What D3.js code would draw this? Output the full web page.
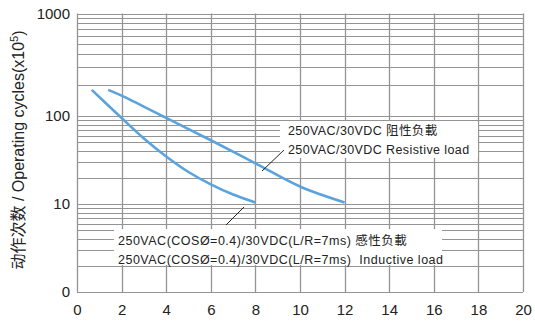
<!DOCTYPE html>
<html><head><meta charset="utf-8">
<script src="https://cdn.jsdelivr.net/npm/d3@7"></script>
<style>
body{margin:0;background:#fff;}
text{font-family:"Liberation Sans",Arial,"Noto Sans CJK SC",sans-serif;}
</style></head><body>
<svg id="c" width="535" height="323"></svg>
<script>
// data
const xTicks = [0,2,4,6,8,10,12,14,16,18,20];
const yTicks = [1,10,100,1000];
const yTickLabels = ["0","10","100","1000"];
const resistiveX = [1.4, 2, 4, 6, 8, 10, 12];
const resistiveY = [180, 158, 95, 53, 29, 15.8, 10.4];
const inductiveX = [0.66, 2, 3, 4, 5, 6, 7, 8];
const inductiveY = [180, 95, 55.5, 34.7, 23.1, 16.7, 12.8, 10.4];
const resistiveLabels = ["250VAC/30VDC 阻性负載", "250VAC/30VDC Resistive load"];
const inductiveLabels = ["250VAC(COSØ=0.4)/30VDC(L/R=7ms) 感性负載", "250VAC(COSØ=0.4)/30VDC(L/R=7ms)  Inductive load"];
const yTitle = "动作次数 / Operating cycles(x10";

const svg = d3.select("#c");
const x = d3.scaleLinear().domain([0,20]).range([77,523]);
const y = d3.scaleLog().domain([1,10,100,1000]).range([292,204,116,13.5]);

const gridColor = "#949494";
// horizontal log grid
const hLines = [];
[1,10,100].forEach(d=>{for(let k=1;k<=9;k++) hLines.push(k*d);});
hLines.push(1000);
svg.append("g").selectAll("line").data(hLines).join("line")
  .attr("x1",x(0)).attr("x2",x(20))
  .attr("y1",d=>Math.round(y(d))+0.5).attr("y2",d=>Math.round(y(d))+0.5)
  .attr("stroke",gridColor).attr("stroke-width",1);
// vertical grid
svg.append("g").selectAll("line").data(xTicks).join("line")
  .attr("x1",d=>Math.round(x(d))+0.5).attr("x2",d=>Math.round(x(d))+0.5)
  .attr("y1",y(1000)).attr("y2",y(1))
  .attr("stroke",gridColor).attr("stroke-width",1.3);

// white backgrounds behind annotations
svg.append("rect").attr("x",280).attr("y",121).attr("width",198).attr("height",37).attr("fill","#fff");
svg.append("rect").attr("x",114).attr("y",229).attr("width",328).attr("height",36).attr("fill","#fff");

// curves
const line = d3.line().x(d=>x(d[0])).y(d=>y(d[1])).curve(d3.curveCatmullRom.alpha(0.5));
svg.append("path").datum(resistiveX.map((v,i)=>[v,resistiveY[i]]))
  .attr("d",line).attr("fill","none").attr("stroke","#5ba3dc").attr("stroke-width",2.6);
svg.append("path").datum(inductiveX.map((v,i)=>[v,inductiveY[i]]))
  .attr("d",line).attr("fill","none").attr("stroke","#5ba3dc").attr("stroke-width",2.6);

// leader lines
svg.append("line").attr("x1",262).attr("y1",171).attr("x2",284).attr("y2",150)
  .attr("stroke","#222").attr("stroke-width",1);
svg.append("line").attr("x1",226).attr("y1",225).attr("x2",244).attr("y2",207)
  .attr("stroke","#222").attr("stroke-width",1);

// annotation text
svg.append("g").selectAll("text").data(resistiveLabels).join("text")
  .attr("x",288).attr("y",(d,i)=>135+i*19).attr("font-size",12.5).attr("letter-spacing",0.4)
  .attr("fill","#222").style("white-space","pre").text(d=>d);
svg.append("g").selectAll("text").data(inductiveLabels).join("text")
  .attr("x",118).attr("y",(d,i)=>245+i*19).attr("font-size",12.5).attr("letter-spacing",0.5)
  .attr("fill","#222").style("white-space","pre").text(d=>d);

// axes
const xAxis = svg.append("g").attr("transform",`translate(0,${y(1)})`)
  .call(d3.axisBottom(x).tickValues(xTicks).tickSize(0).tickPadding(12).tickFormat(d3.format("d")));
xAxis.select(".domain").remove();
xAxis.selectAll("text").attr("font-size",15).attr("fill","#222").style("font-family","'Liberation Sans',Arial,sans-serif");

const yAxis = svg.append("g").attr("transform",`translate(${x(0)},0)`)
  .call(d3.axisLeft(y).tickValues(yTicks).tickSize(0).tickPadding(7).tickFormat((d,i)=>yTickLabels[i]));
yAxis.select(".domain").remove();
yAxis.selectAll("text").attr("font-size",15).attr("fill","#222").style("font-family","'Liberation Sans',Arial,sans-serif");

// y title
const t = svg.append("text").attr("transform","translate(24,150) rotate(-90)")
  .attr("text-anchor","middle").attr("font-size",16).attr("fill","#222");
t.append("tspan").text(yTitle);
t.append("tspan").attr("dy",-6).attr("font-size",11).text("5");
t.append("tspan").attr("dy",6).text(")");
</script></body></html>
